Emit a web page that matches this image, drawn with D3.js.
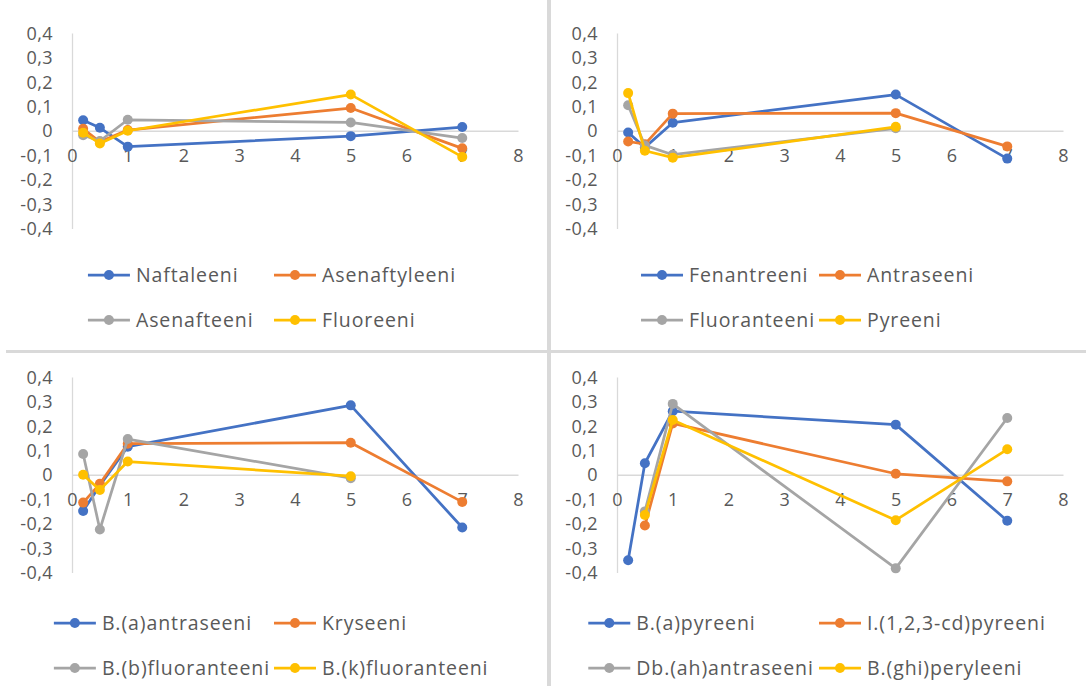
<!DOCTYPE html>
<html><head><meta charset="utf-8">
<script src="https://cdn.jsdelivr.net/npm/d3@7"></script>
<style>body{margin:0;background:#fff}svg{display:block}</style>
</head><body>
<svg id="c" width="1086" height="686"></svg>
<script>
// ---- data ----
const xValues = [0.2, 0.5, 1, 5, 7];
const xTicks = [0, 1, 2, 3, 4, 5, 6, 7, 8];
const yTicks = [0.4, 0.3, 0.2, 0.1, 0, -0.1, -0.2, -0.3, -0.4];
const seriesColors = ["#4472C4", "#ED7D31", "#A5A5A5", "#FFC000"];

const panel1Names = ["Naftaleeni", "Asenaftyleeni", "Asenafteeni", "Fluoreeni"];
const naftaleeni    = [0.043, 0.012, -0.065, -0.022, 0.015];
const asenaftyleeni = [0.008, -0.045, 0.003, 0.093, -0.072];
const asenafteeni   = [-0.018, -0.042, 0.045, 0.034, -0.030];
const fluoreeni     = [-0.008, -0.052, 0.000, 0.148, -0.107];

const panel2Names = ["Fenantreeni", "Antraseeni", "Fluoranteeni", "Pyreeni"];
const fenantreeni  = [-0.007, -0.068, 0.033, 0.148, -0.114];
const antraseeni   = [-0.044, -0.055, 0.070, 0.072, -0.064];
const fluoranteeni = [0.104, -0.060, -0.098, 0.010, null];
const pyreeni      = [0.154, -0.082, -0.110, 0.016, null];

const panel3Names = ["B.(a)antraseeni", "Kryseeni", "B.(b)fluoranteeni", "B.(k)fluoranteeni"];
const bAantraseeni     = [-0.148, -0.044, 0.115, 0.284, -0.216];
const kryseeni         = [-0.114, -0.037, 0.127, 0.131, -0.111];
const bBfluoranteeni   = [0.085, -0.224, 0.146, -0.014, null];
const bKfluoranteeni   = [0.000, -0.062, 0.054, -0.006, null];

const panel4Names = ["B.(a)pyreeni", "I.(1,2,3-cd)pyreeni", "Db.(ah)antraseeni", "B.(ghi)peryleeni"];
const bApyreeni     = [-0.350, 0.047, 0.260, 0.205, -0.188];
const i123cdpyreeni = [null, -0.208, 0.210, 0.004, -0.027];
const dbAhantraseeni= [null, -0.150, 0.290, -0.383, 0.232];
const bGhiperyleeni = [null, -0.165, 0.224, -0.186, 0.104];

const panels = [
  {names: panel1Names, values: [naftaleeni, asenaftyleeni, asenafteeni, fluoreeni], ox: 0, oy: 0},
  {names: panel2Names, values: [fenantreeni, antraseeni, fluoranteeni, pyreeni], ox: 545, oy: 0},
  {names: panel3Names, values: [bAantraseeni, kryseeni, bBfluoranteeni, bKfluoranteeni], ox: 0, oy: 344},
  {names: panel4Names, values: [bApyreeni, i123cdpyreeni, dbAhantraseeni, bGhiperyleeni], ox: 545, oy: 344}
];

// ---- drawing ----
const svg = d3.select("#c");
const FONT = "'Open Sans', 'Noto Sans', sans-serif";
const TXT = "#595959";
const AX = "#d9d9d9";
const fmt = v => v === 0 ? "0" : (v < 0 ? "-" : "") + Math.abs(v).toFixed(1).replace(".", ",");

// dividers
svg.append("line").attr("x1", 549).attr("x2", 549).attr("y1", 0).attr("y2", 686)
  .attr("stroke", "#d9d9d9").attr("stroke-width", 4);
svg.append("line").attr("x1", 6).attr("x2", 1086).attr("y1", 351.5).attr("y2", 351.5)
  .attr("stroke", "#d9d9d9").attr("stroke-width", 3);

panels.forEach((p, pi) => {
  const g = svg.append("g").attr("transform", `translate(${p.ox},${p.oy})`);
  const x = d3.scaleLinear().domain([0, 8]).range([72, 518]);
  const y = d3.scaleLinear().domain([-0.4, 0.4]).range([228.5, 33]);

  // y axis
  const yAx = g.append("g").attr("transform", `translate(${x(0)},0)`)
    .call(d3.axisLeft(y).tickValues(yTicks).tickFormat(fmt).tickSize(0).tickPadding(19));
  yAx.select(".domain").attr("stroke", AX).attr("stroke-width", 1.3);
  yAx.selectAll("text").attr("fill", TXT).style("font-family", FONT).style("font-size", "18px")
    .style("letter-spacing", "0.4px").attr("dy", "0.34em");

  // x axis at y=0
  const xAx = g.append("g").attr("transform", `translate(0,${y(0)})`)
    .call(d3.axisBottom(x).tickValues(xTicks).tickFormat(d => String(d)).tickSize(0).tickPadding(18));
  xAx.select(".domain").attr("stroke", AX).attr("stroke-width", 1.3);
  xAx.selectAll("text").attr("fill", TXT).style("font-family", FONT).style("font-size", "18px");

  // series
  p.values.forEach((vals, si) => {
    const pts = xValues.map((xv, i) => ({x: xv, y: vals[i]})).filter(d => d.y !== null);
    const line = d3.line().x(d => x(d.x)).y(d => y(d.y));
    g.append("path").datum(pts).attr("d", line).attr("fill", "none")
      .attr("stroke", seriesColors[si]).attr("stroke-width", 2.75).attr("stroke-linejoin", "round");
    g.selectAll(null).data(pts).enter().append("circle")
      .attr("cx", d => x(d.x)).attr("cy", d => y(d.y)).attr("r", 5)
      .attr("fill", seriesColors[si]);
  });

  // legend
  const lg = g.append("g");
  const rows = pi < 2 ? [275, 320] : [279, 324];
  const items = p.names.map((n, i) => {
    const it = lg.append("g");
    it.append("line").attr("x1", 0).attr("x2", 42).attr("y1", 0).attr("y2", 0)
      .attr("stroke", seriesColors[i]).attr("stroke-width", 2.75);
    it.append("circle").attr("cx", 21).attr("cy", 0).attr("r", 5).attr("fill", seriesColors[i]);
    const t = it.append("text").attr("x", 48).attr("y", 0).attr("dy", "0.35em")
      .attr("fill", TXT).style("font-family", FONT).style("font-size", "19.5px")
      .style("letter-spacing", "0.9px").text(n);
    return {g: it, w: t.node().getComputedTextLength()};
  });
  const maxW = d3.max(items, d => d.w);
  const colW = 48 + maxW + 4;
  const cx = 274;
  const startX = cx - colW;
  items.forEach((it, i) => {
    it.g.attr("transform", `translate(${startX + (i % 2) * colW},${rows[Math.floor(i / 2)]})`);
  });
});
</script>
</body></html>
